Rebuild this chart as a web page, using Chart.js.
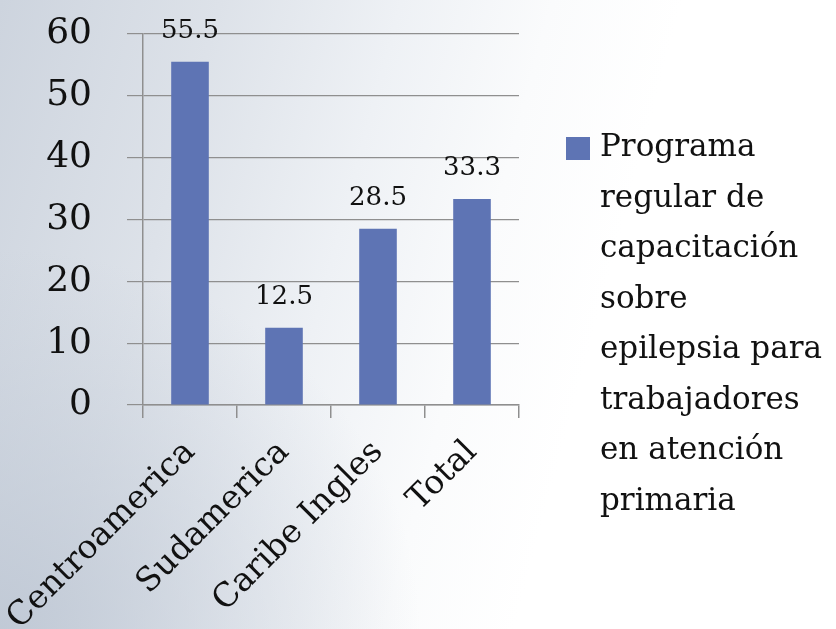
<!DOCTYPE html>
<html>
<head>
<meta charset="utf-8">
<script src="https://cdn.jsdelivr.net/npm/chart.js@4.4.1/dist/chart.umd.min.js"></script>
<style>
  html, body {
    margin: 0;
    padding: 0;
    width: 836px;
    height: 629px;
    overflow: hidden;
  }
  body {
    background:
      radial-gradient(ellipse 420px 380px at 0px 629px, rgba(190, 199, 212, 0.9), rgba(190, 199, 212, 0) 100%),
      linear-gradient(105deg, #cdd4de 0%, #dde2e9 22%, #eef1f5 40%, #fafbfc 55%, #ffffff 68%);
  }
  #wrap {
    position: relative;
    width: 836px;
    height: 629px;
  }
</style>
</head>
<body>
<div id="wrap">
  <canvas id="regionChart" width="836" height="629"></canvas>
</div>
<script>
const regions = ["Centroamerica", "Sudamerica", "Caribe Ingles", "Total"];
const programValues = [55.5, 12.5, 28.5, 33.3];
const seriesName = "Programa regular de capacitación sobre epilepsia para trabajadores en atención primaria";
const legendLines = ["Programa", "regular de", "capacitación", "sobre", "epilepsia para", "trabajadores", "en atención", "primaria"];
const yTicks = [0, 10, 20, 30, 40, 50, 60];

const barColor = "#5e74b4";
const serif = "'DejaVu Serif', 'Liberation Serif', serif";

// value labels drawn above each bar
const valueLabels = {
  id: "valueLabels",
  afterDatasetsDraw(chart) {
    const ctx = chart.ctx;
    const meta = chart.getDatasetMeta(0);
    ctx.save();
    ctx.font = "26px " + serif;
    ctx.fillStyle = "#111";
    ctx.textAlign = "center";
    ctx.textBaseline = "alphabetic";
    meta.data.forEach((bar, i) => {
      ctx.fillText(String(programValues[i]), bar.x, bar.y - 24);
    });
    ctx.restore();
  },
};

// wrapped legend on the right side
const sideLegend = {
  id: "sideLegend",
  afterDraw(chart) {
    const ctx = chart.ctx;
    ctx.save();
    ctx.fillStyle = barColor;
    ctx.fillRect(566, 137, 24, 23);
    ctx.font = "31px " + serif;
    ctx.fillStyle = "#111";
    ctx.textAlign = "left";
    ctx.textBaseline = "middle";
    legendLines.forEach((line, i) => {
      ctx.fillText(line, 600, 148 + i * 50.5);
    });
    ctx.restore();
  },
};

new Chart(document.getElementById("regionChart"), {
  type: "bar",
  data: {
    labels: regions,
    datasets: [
      {
        label: seriesName,
        data: programValues,
        backgroundColor: barColor,
        borderWidth: 0,
        barPercentage: 0.4,
        categoryPercentage: 1.0,
      },
    ],
  },
  options: {
    responsive: false,
    animation: false,
    devicePixelRatio: 1,
    layout: {
      padding: { left: 0, right: 317, top: 34, bottom: 0 },
    },
    plugins: {
      legend: { display: false },
      tooltip: { enabled: false },
    },
    scales: {
      x: {
        offset: true,
        afterFit(scale) {
          scale.height = 224;
          scale.paddingLeft = 0;
          scale.paddingRight = 0;
        },
        grid: {
          offset: true,
          drawOnChartArea: false,
          drawTicks: true,
          tickLength: 13,
          color: "#8f8f8f",
          lineWidth: 1.5,
        },
        border: { color: "#8f8f8f", width: 1.5 },
        ticks: {
          color: "#111",
          font: { family: serif, size: 33 },
          minRotation: 45,
          maxRotation: 45,
          padding: 15,
        },
      },
      y: {
        min: 0,
        max: 60,
        afterBuildTicks(axis) {
          axis.ticks = yTicks.map((v) => ({ value: v }));
        },
        afterFit(scale) {
          scale.width = 143;
          scale.paddingTop = 0;
          scale.paddingBottom = 0;
        },
        grid: {
          color: "#8f8f8f",
          lineWidth: 1.2,
          tickLength: 16,
        },
        border: { color: "#8f8f8f", width: 1.5 },
        ticks: {
          color: "#111",
          font: { family: serif, size: 36 },
          padding: 35,
        },
      },
    },
  },
  plugins: [valueLabels, sideLegend],
});
</script>
</body>
</html>
